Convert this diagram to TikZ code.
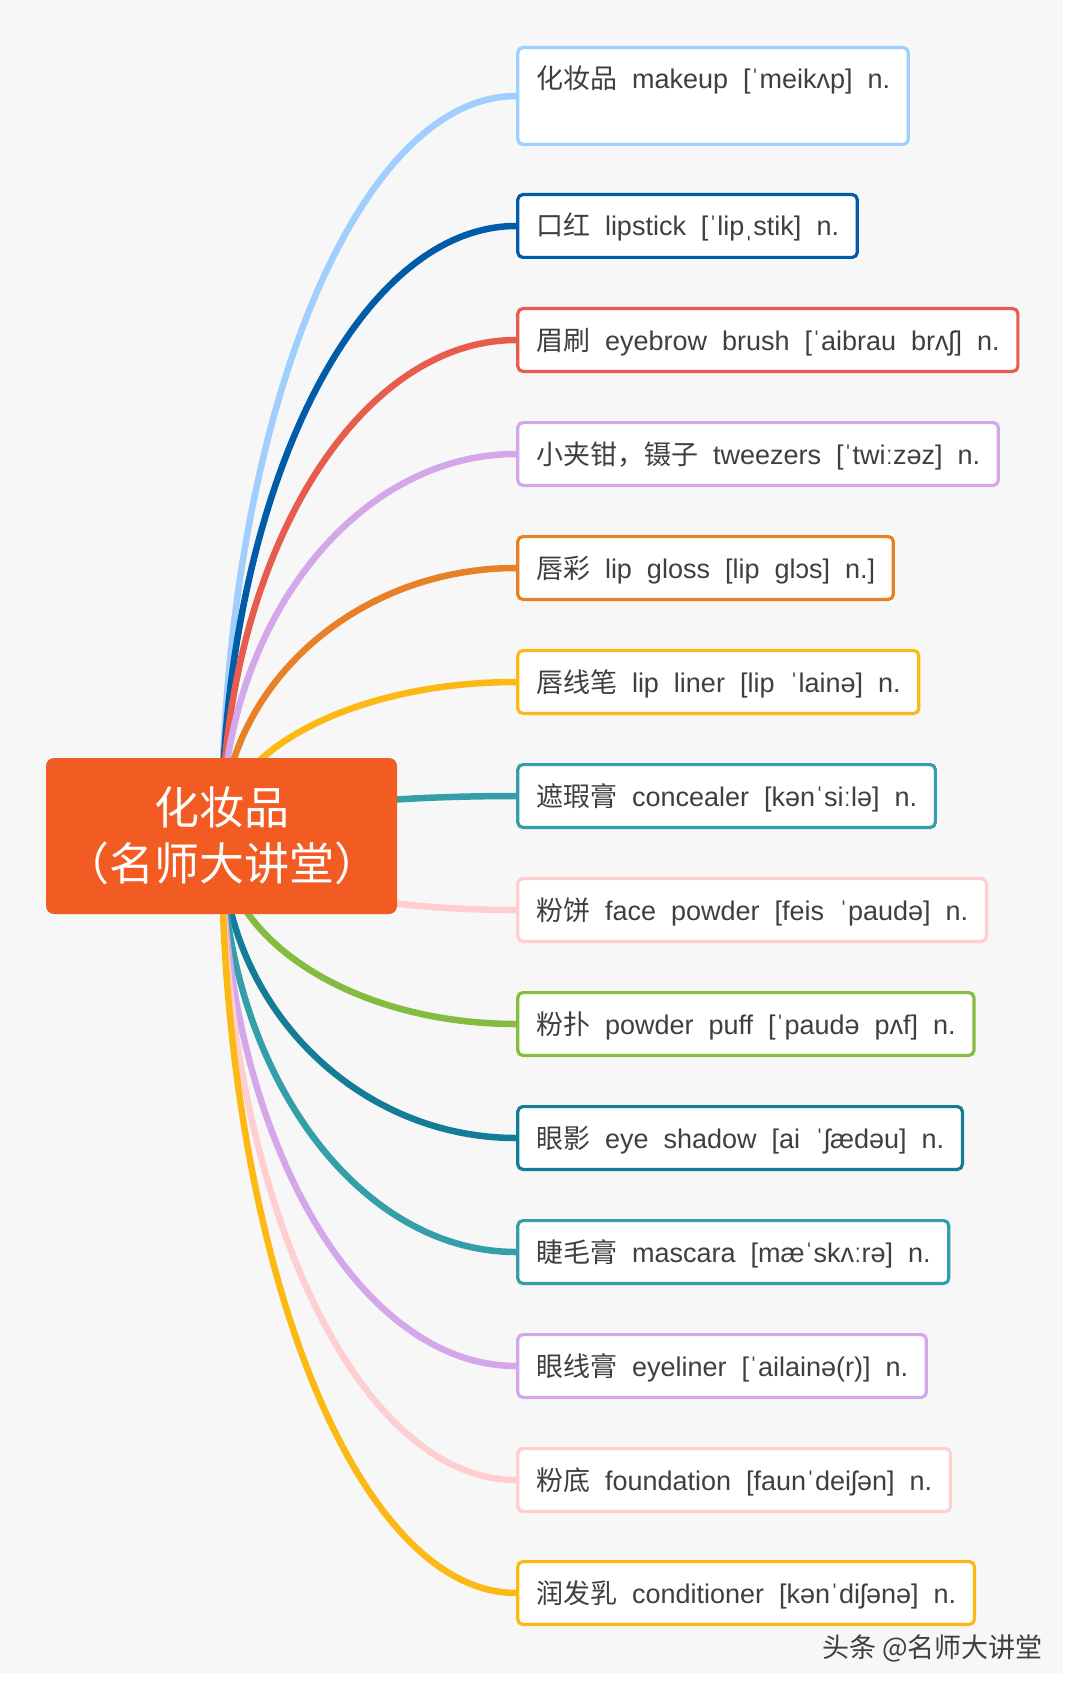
\documentclass[tikz,border=0pt]{standalone}
\usepackage{fontspec}
\setmainfont{Liberation Sans}
\newfontfamily\cjk{Noto Sans CJK SC}
\usetikzlibrary{calc,backgrounds}
\definecolor{bg}{HTML}{F7F7F7}
\definecolor{txt}{HTML}{3F3F3F}
\definecolor{cA}{HTML}{9FCEFF}
\definecolor{cB}{HTML}{005CA9}
\definecolor{cC}{HTML}{E85C4E}
\definecolor{cD}{HTML}{D4A6EA}
\definecolor{cE}{HTML}{E88027}
\definecolor{cF}{HTML}{FDB913}
\definecolor{cG}{HTML}{349EA9}
\definecolor{cH}{HTML}{FFCFCF}
\definecolor{cI}{HTML}{84BC40}
\definecolor{cJ}{HTML}{137D97}
\definecolor{rootc}{HTML}{F25C23}
\tikzset{
  leaf/.style={draw=#1, line width=3.2pt, fill=white, rounded corners=5pt,
    anchor=west, inner xsep=18.2pt, inner ysep=18.4pt, text height=23pt,
    text depth=3pt, font=\fontsize{27}{32}\selectfont, text=txt},
  branch/.style={draw=#1, line width=6.5pt},
  rootbox/.style={fill=rootc, rounded corners=8pt, minimum width=351pt,
    minimum height=156pt, inner sep=0pt, text=white, align=center,
    font=\cjk\fontsize{45}{56}\selectfont},
  wmark/.style={font=\cjk\fontsize{27}{32}\selectfont, text=txt, anchor=west, inner sep=0pt}
}
\begin{document}
\begin{tikzpicture}[x=1pt,y=-1pt]
\useasboundingbox (0,0) rectangle (1070,1685);
\node[rootbox] (root) at (221.5,836) {化妆品\\（名师大讲堂）};
\node[leaf=cA, text depth=37pt] (n1) at (516.2,96) {{\cjk 化妆品}~~makeup~~[ˈmeikʌp]~~n.};
\node[leaf=cB] (n2) at (516.2,226) {{\cjk 口红}~~lipstick~~[ˈlipˌstik]~~n.};
\node[leaf=cC] (n3) at (516.2,340) {{\cjk 眉刷}~~eyebrow~~brush~~[ˈaibrau~~brʌʃ]~~n.};
\node[leaf=cD] (n4) at (516.2,454) {{\cjk 小夹钳，镊子}~~tweezers~~[ˈtwiːzəz]~~n.};
\node[leaf=cE] (n5) at (516.2,568) {{\cjk 唇彩}~~lip~~gloss~~[lip~~glɔs]~~n.]};
\node[leaf=cF] (n6) at (516.2,682) {{\cjk 唇线笔}~~lip~~liner~~[lip~~ˈlainə]~~n.};
\node[leaf=cG] (n7) at (516.2,796) {{\cjk 遮瑕膏}~~concealer~~[kənˈsiːlə]~~n.};
\node[leaf=cH] (n8) at (516.2,910) {{\cjk 粉饼}~~face~~powder~~[feis~~ˈpaudə]~~n.};
\node[leaf=cI] (n9) at (516.2,1024) {{\cjk 粉扑}~~powder~~puff~~[ˈpaudə~~pʌf]~~n.};
\node[leaf=cJ] (n10) at (516.2,1138) {{\cjk 眼影}~~eye~~shadow~~[ai~~ˈʃædəu]~~n.};
\node[leaf=cG] (n11) at (516.2,1252) {{\cjk 睫毛膏}~~mascara~~[mæˈskʌːrə]~~n.};
\node[leaf=cD] (n12) at (516.2,1366) {{\cjk 眼线膏}~~eyeliner~~[ˈailainə(r)]~~n.};
\node[leaf=cH] (n13) at (516.2,1480) {{\cjk 粉底}~~foundation~~[faunˈdeiʃən]~~n.};
\node[leaf=cF] (n14) at (516.2,1593) {{\cjk 润发乳}~~conditioner~~[kənˈdiʃənə]~~n.};
\node[wmark] (wm) at (822,1648) {头条 @名师大讲堂};
\begin{scope}[on background layer]
  \fill[white] (0,0) rectangle (1070,1685);
  \fill[bg] (0,0) rectangle (1063,1673);
  \foreach \n/\c in {n1/cA,n2/cB,n3/cC,n4/cD,n5/cE,n6/cF,n7/cG,n8/cH,n9/cI,n10/cJ,n11/cG,n12/cD,n13/cH,n14/cF}
    \draw[branch=\c] (root.center) .. controls ($(root.center)!0.55!(root.center|-\n.west)$) and ($(\n.west)!0.55!(root.center|-\n.west)$) .. (\n.west);
\end{scope}
\end{tikzpicture}
\end{document}
